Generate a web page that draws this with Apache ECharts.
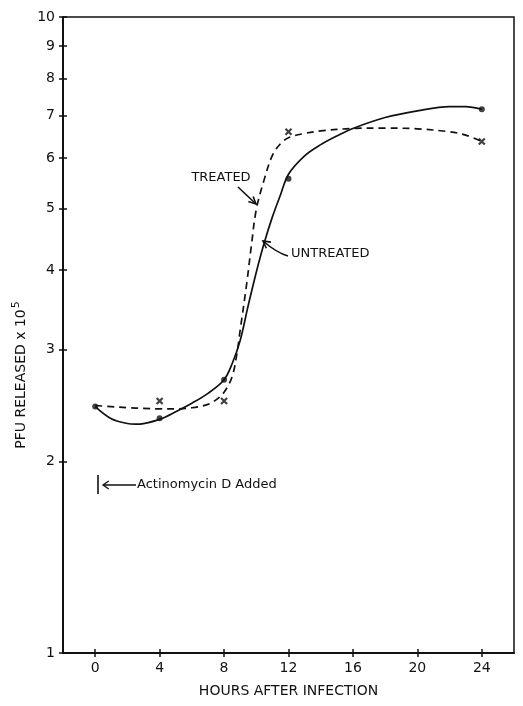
<!DOCTYPE html>
<html><head><meta charset="utf-8">
<script src="https://cdn.jsdelivr.net/npm/echarts@6/dist/echarts.min.js"></script>
<style>html,body{margin:0;padding:0;background:#fff}#c{width:523px;height:706px}</style>
</head><body><div id="c"></div>
<script>
// ---- data ----
const hourTicks = [0, 4, 8, 12, 16, 20, 24];
const pfuTicks = [1, 2, 3, 4, 5, 6, 7, 8, 9, 10];

const untreatedHours = [0, 4, 8, 12, 24];
const untreatedPFU = [2.44, 2.34, 2.69, 5.57, 7.16];

const treatedHours = [4, 8, 12, 24];
const treatedPFU = [2.49, 2.49, 6.60, 6.37];

const untreatedCurveHours = [0, 1, 2, 2.5, 3, 4, 5, 6, 7, 8, 8.5, 9, 9.5, 10, 10.5, 11, 11.5, 12, 13, 14, 15, 16, 18, 20, 22, 23, 24];
const untreatedCurvePFU = [2.44, 2.335, 2.295, 2.29, 2.295, 2.33, 2.395, 2.47, 2.56, 2.69, 2.85, 3.10, 3.52, 3.97, 4.42, 4.85, 5.25, 5.66, 6.05, 6.30, 6.50, 6.68, 6.95, 7.12, 7.23, 7.23, 7.16];

const treatedCurveHours = [0, 1, 2, 3, 4, 5, 6, 7, 7.5, 8, 8.5, 8.8, 9, 9.4, 9.7, 10, 10.5, 11, 11.5, 12, 13, 14, 16, 18, 20, 22, 23, 24];
const treatedCurvePFU = [2.45, 2.44, 2.43, 2.425, 2.42, 2.42, 2.43, 2.46, 2.50, 2.57, 2.72, 2.96, 3.22, 3.80, 4.38, 4.98, 5.56, 6.06, 6.32, 6.46, 6.56, 6.62, 6.68, 6.69, 6.67, 6.60, 6.52, 6.37];

// ---- chart ----
const zip = (a, b) => a.map((v, i) => [v, b[i]]);
const FONT = 'DejaVu Sans';
const INK = '#111';

function arrowHead(tip, from, len, ang) {
  const dx = from[0] - tip[0], dy = from[1] - tip[1];
  const d = Math.hypot(dx, dy), ux = dx / d, uy = dy / d;
  const r = (a) => [tip[0] + len * (ux * Math.cos(a) - uy * Math.sin(a)), tip[1] + len * (ux * Math.sin(a) + uy * Math.cos(a))];
  return [r(ang), tip, r(-ang)];
}

const chart = echarts.init(document.getElementById('c'), null, { renderer: 'canvas' });

const axisLineStyle = { color: INK, width: 2 };
const xBase = { type: 'value', min: -2, max: 26, position: 'bottom', splitLine: { show: false } };
const yBase = { type: 'log', logBase: 10, min: 1, max: 10, position: 'left', splitLine: { show: false }, minorTick: { show: false } };

const trArrowTail = [238, 187], trArrowTip = [256, 204];
const unArrowTail = [288, 256], unArrowTip = [263, 241];
const acArrowTail = [136, 485], acArrowTip = [103, 485];

chart.setOption({
  animation: false,
  backgroundColor: '#fff',
  grid: { left: 63, top: 17, width: 451, height: 636, show: true, borderColor: INK, borderWidth: 1.5, backgroundColor: 'transparent' },
  xAxis: [
    Object.assign({}, xBase, {
      name: 'HOURS AFTER INFECTION', nameLocation: 'middle', nameGap: 31,
      nameTextStyle: { fontFamily: FONT, fontSize: 14, color: INK },
      axisLine: { onZero: false, lineStyle: axisLineStyle },
      axisTick: { show: true, inside: false, length: 4, lineStyle: { color: INK, width: 1.5 }, customValues: hourTicks },
      axisLabel: { show: true, margin: 8, fontFamily: FONT, fontSize: 14, color: INK, customValues: hourTicks }
    }),
    Object.assign({}, xBase, {
      axisLine: { show: false, onZero: false },
      axisTick: { show: true, inside: true, length: 4, lineStyle: { color: INK, width: 1.5 }, customValues: hourTicks },
      axisLabel: { show: false }
    })
  ],
  yAxis: [
    Object.assign({}, yBase, {
      axisLine: { show: true, onZero: false, lineStyle: axisLineStyle },
      axisTick: { show: true, inside: false, length: 4, lineStyle: { color: INK, width: 1.5 }, customValues: pfuTicks },
      axisLabel: { show: true, margin: 8, fontFamily: FONT, fontSize: 14, color: INK, customValues: pfuTicks, formatter: (v) => String(Math.round(v)) }
    }),
    Object.assign({}, yBase, {
      axisLine: { show: false, onZero: false },
      axisTick: { show: true, inside: true, length: 4, lineStyle: { color: INK, width: 1.5 }, customValues: pfuTicks },
      axisLabel: { show: false }
    })
  ],
  series: [
    {
      name: 'Untreated curve', type: 'line', xAxisIndex: 0, yAxisIndex: 0,
      data: zip(untreatedCurveHours, untreatedCurvePFU), smooth: 0.35, showSymbol: false,
      lineStyle: { color: INK, width: 1.7, type: 'solid' }, z: 3
    },
    {
      name: 'Treated curve', type: 'line', xAxisIndex: 0, yAxisIndex: 0,
      data: zip(treatedCurveHours, treatedCurvePFU), smooth: 0.35, showSymbol: false,
      lineStyle: { color: INK, width: 1.7, type: [7, 5] }, z: 3
    },
    {
      name: 'Untreated', type: 'scatter', xAxisIndex: 0, yAxisIndex: 0,
      data: zip(untreatedHours, untreatedPFU), symbol: 'circle', symbolSize: 6,
      itemStyle: { color: INK }, z: 5
    },
    {
      name: 'Treated', type: 'scatter', xAxisIndex: 0, yAxisIndex: 0,
      data: zip(treatedHours, treatedPFU), symbol: 'path://M0,0L10,10M10,0L0,10', symbolSize: 6,
      itemStyle: { color: INK, borderColor: INK, borderWidth: 2.2 }, z: 5
    },
    {
      name: 'tick-axes', type: 'line', xAxisIndex: 1, yAxisIndex: 1, data: [], silent: true, showSymbol: false
    }
  ],
  graphic: [
    { type: 'text', x: 21, y: 375, rotation: Math.PI / 2,
      style: { text: 'PFU RELEASED x 10{s|5}', fontFamily: FONT, fontSize: 14, fill: INK, align: 'center', verticalAlign: 'middle',
        rich: { s: { fontFamily: FONT, fontSize: 11, fill: INK, padding: [0, 0, 10, 1] } } } },
    { type: 'text', x: 221, y: 178, style: { text: 'TREATED', fontFamily: FONT, fontSize: 13, fill: INK, align: 'center', verticalAlign: 'middle' } },
    { type: 'polyline', shape: { points: [trArrowTail, trArrowTip] }, style: { stroke: INK, lineWidth: 1.6, fill: null } },
    { type: 'polyline', shape: { points: arrowHead(trArrowTip, trArrowTail, 8, 0.45) }, style: { stroke: INK, lineWidth: 1.6, fill: null } },
    { type: 'text', x: 291, y: 254, style: { text: 'UNTREATED', fontFamily: FONT, fontSize: 13, fill: INK, align: 'left', verticalAlign: 'middle' } },
    { type: 'bezierCurve', shape: { x1: unArrowTail[0], y1: unArrowTail[1], x2: unArrowTip[0], y2: unArrowTip[1], cpx1: 277, cpy1: 253 }, style: { stroke: INK, lineWidth: 1.6, fill: null } },
    { type: 'polyline', shape: { points: arrowHead(unArrowTip, [271, 247], 8, 0.5) }, style: { stroke: INK, lineWidth: 1.6, fill: null } },
    { type: 'line', shape: { x1: 98, y1: 475, x2: 98, y2: 494 }, style: { stroke: INK, lineWidth: 1.6 } },
    { type: 'polyline', shape: { points: [acArrowTail, acArrowTip] }, style: { stroke: INK, lineWidth: 1.3, fill: null } },
    { type: 'polyline', shape: { points: arrowHead(acArrowTip, acArrowTail, 7, 0.6) }, style: { stroke: INK, lineWidth: 1.3, fill: null } },
    { type: 'text', x: 137, y: 485, style: { text: 'Actinomycin D Added', fontFamily: FONT, fontSize: 13, fill: INK, align: 'left', verticalAlign: 'middle' } }
  ]
});
</script>
</body></html>
